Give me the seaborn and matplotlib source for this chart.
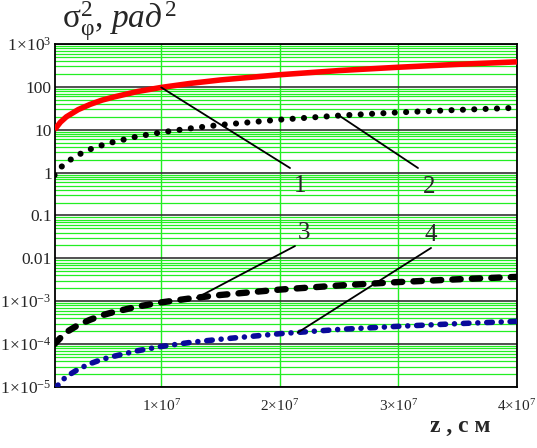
import matplotlib
matplotlib.use("Agg")
import matplotlib.pyplot as plt
import seaborn as sns
import numpy as np
from matplotlib.ticker import LogLocator, FixedLocator, NullFormatter

# values
z = [1e6, 1.5e6, 2e6, 3e6, 4e6, 5e6, 6e6, 8e6, 1e7, 1.25e7, 1.5e7, 2e7, 2.5e7, 3e7, 3.5e7, 4e7]
curve1 = [10, 15, 20, 29.5, 39, 49, 58, 78, 97, 121, 145, 192, 240, 287, 335, 383]
curve2 = [0.87, 1.3, 1.74, 2.6, 3.5, 4.35, 5.2, 7.0, 8.7, 10.8, 13, 17.2, 21.4, 25.4, 29, 32.5]
curve3 = [1.0e-4, 1.4e-4, 1.9e-4, 2.8e-4, 3.7e-4, 4.7e-4, 5.6e-4, 7.5e-4, 9.4e-4,
          1.17e-3, 1.4e-3, 1.87e-3, 2.33e-3, 2.8e-3, 3.25e-3, 3.7e-3]
curve4 = [0.88e-5, 1.3e-5, 1.75e-5, 2.6e-5, 3.5e-5, 4.4e-5, 5.2e-5, 7e-5, 8.8e-5,
          1.1e-4, 1.3e-4, 1.75e-4, 2.2e-4, 2.6e-4, 3.0e-4, 3.4e-4]

y_ticks = [1e-5, 1e-4, 1e-3, 1e-2, 1e-1, 1, 10, 100, 1e3]
y_labels = [r"$1\!\times\!10^{-5}$", r"$1\!\times\!10^{-4}$", r"$1\!\times\!10^{-3}$",
            "0.01", "0.1", "1", "10", "100", r"$1\!\times\!10^{3}$"]
x_ticks = [1e7, 2e7, 3e7, 4e7]
x_labels = [r"$1\!\times\!10^{7}$", r"$2\!\times\!10^{7}$", r"$3\!\times\!10^{7}$", r"$4\!\times\!10^{7}$"]

sns.set_style("white")
plt.rcParams['font.family'] = ['Liberation Serif', 'DejaVu Serif']
plt.rcParams['mathtext.fontset'] = 'custom'
plt.rcParams['mathtext.rm'] = 'Liberation Serif'
plt.rcParams['mathtext.it'] = 'Liberation Serif:italic'
plt.rcParams['mathtext.bf'] = 'Liberation Serif:bold'

fig = plt.figure(figsize=(5.37, 4.48), dpi=100)
ax = fig.add_axes([0.1015, 0.1362, 0.8613, 0.7656])

sns.lineplot(x=z, y=curve1, ax=ax, color="#ff0000", linewidth=4.0, solid_capstyle="butt", zorder=5)
sns.lineplot(x=z, y=curve2, ax=ax, color="black", linewidth=4.4,
             linestyle=(0, (0.01, 1.85)), dash_capstyle="round", zorder=5)
sns.lineplot(x=z, y=curve3, ax=ax, color="black", linewidth=4.6,
             linestyle=(0, (1.3, 1.75)), dash_capstyle="round", zorder=5)
sns.lineplot(x=z, y=curve4, ax=ax, color="#0a0a9a", linewidth=4.0,
             linestyle=(0, (1.0, 1.6, 0.01, 1.6)), dash_capstyle="round", zorder=5)

ax.set_yscale("log")
ax.set_xlim(1e6, 4e7)
ax.set_ylim(1e-5, 1e3)

ax.yaxis.set_major_locator(FixedLocator(y_ticks))
ax.set_yticklabels(y_labels)
ax.yaxis.set_minor_locator(LogLocator(base=10, subs=np.arange(2, 10)))
ax.yaxis.set_minor_formatter(NullFormatter())
ax.set_xticks(x_ticks)
ax.set_xticklabels(x_labels)
ax.tick_params(axis="both", which="both", length=0)
ax.tick_params(axis="y", labelsize=12.5, pad=2)
ax.tick_params(axis="x", labelsize=11, pad=8)

ax.grid(True, axis="y", which="minor", color="#22ee22", linewidth=0.9, zorder=0)
ax.grid(True, axis="y", which="major", color="#333333", linewidth=1.2, zorder=1)
ax.grid(True, axis="x", which="major", color="#22ee22", linewidth=1.0, zorder=0)
for s in ax.spines.values():
    s.set_color("black")
    s.set_linewidth(1.3)

# curve labels with leader lines
lead = dict(arrowstyle="-", color="black", lw=1.3, shrinkA=0, shrinkB=0)
ax.annotate("", xy=(z[8], curve1[8]), xytext=(2.086e7, 1.28), arrowprops=lead, zorder=6)
ax.text(2.17e7, 0.5, "1", fontsize=18, ha="center", va="center")
ax.annotate("", xy=(z[12], curve2[12]), xytext=(3.165e7, 1.28), arrowprops=lead, zorder=6)
ax.text(3.26e7, 0.46, "2", fontsize=18, ha="center", va="center")
ax.annotate("", xy=(1.3e7, 1.2e-3), xytext=(2.128e7, 0.0194), arrowprops=lead, zorder=6)
ax.text(2.2e7, 0.039, "3", fontsize=18, ha="center", va="center")
ax.annotate("", xy=(2.15e7, 1.85e-4), xytext=(3.275e7, 0.0175), arrowprops=lead, zorder=6)
ax.text(3.275e7, 0.035, "4", fontsize=18, ha="center", va="center")

fig.text(0.115, 0.905, r"$\mathrm{σ}_{\mathrm{φ}}^{2}$, $\mathit{рад}^{2}$", fontsize=24, ha="left", va="bottom")
fig.text(0.80, 0.025, "z , с м", fontsize=17, fontweight="bold", ha="left", va="bottom")

fig.savefig("out.png", dpi=100, facecolor="white")
